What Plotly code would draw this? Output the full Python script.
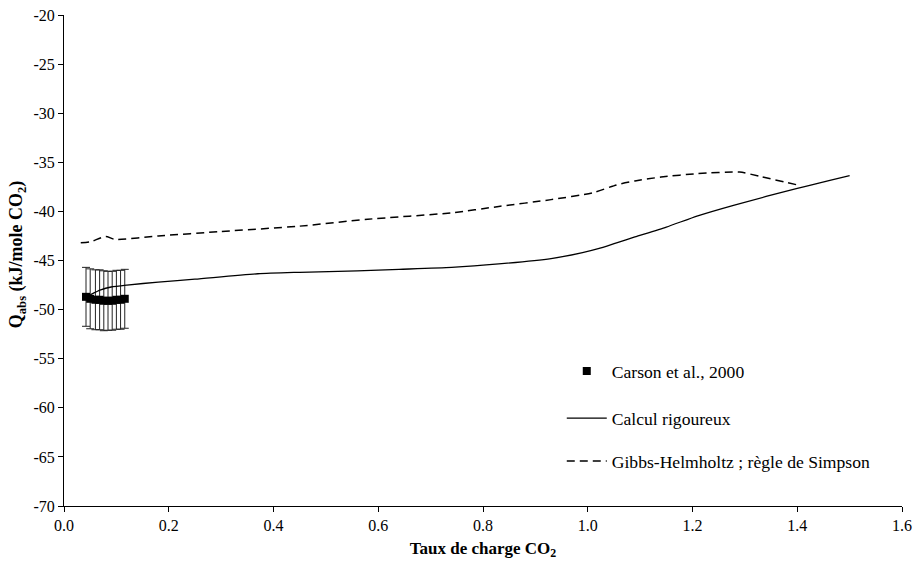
import plotly.graph_objects as go

# Carson et al., 2000 experimental points
carson_x = [0.042, 0.050, 0.060, 0.068, 0.076, 0.084, 0.092, 0.100, 0.108, 0.116]
carson_y = [-48.7, -48.9, -49.0, -49.0, -49.1, -49.1, -49.1, -49.0, -49.0, -48.9]
carson_err = [3.0, 3.05, 3.05, 3.05, 3.05, 3.0, 3.0, 3.0, 3.0, 3.0]

# Calcul rigoureux
rig_x = [0.05, 0.07, 0.09, 0.12, 0.18, 0.25, 0.37, 0.45, 0.56, 0.64, 0.74, 0.83,
         0.93, 0.99, 1.02, 1.055, 1.09, 1.15, 1.21, 1.28, 1.40, 1.50]
rig_y = [-48.5, -48.0, -47.7, -47.5, -47.2, -46.9, -46.35, -46.2, -46.05, -45.9, -45.7, -45.35,
         -44.8, -44.2, -43.8, -43.2, -42.6, -41.6, -40.45, -39.35, -37.65, -36.35]

# Gibbs-Helmholtz ; règle de Simpson
gh_x = [0.032, 0.05, 0.08, 0.097, 0.18, 0.30, 0.45, 0.58, 0.74, 0.83, 0.93, 1.01,
        1.055, 1.09, 1.14, 1.21, 1.29, 1.33, 1.40]
gh_y = [-43.2, -43.1, -42.55, -42.85, -42.5, -42.05, -41.5, -40.8, -40.15, -39.5, -38.8, -38.1,
        -37.3, -36.9, -36.5, -36.15, -36.0, -36.45, -37.3]

x_ticks = [0.0, 0.2, 0.4, 0.6, 0.8, 1.0, 1.2, 1.4, 1.6]
x_ticklabels = ["0.0", "0.2", "0.4", "0.6", "0.8", "1.0", "1.2", "1.4", "1.6"]
y_ticks = [-70, -65, -60, -55, -50, -45, -40, -35, -30, -25, -20]
y_ticklabels = ["-70", "-65", "-60", "-55", "-50", "-45", "-40", "-35", "-30", "-25", "-20"]

x_title = "<b>Taux de charge CO<sub>2</sub></b>"
y_title = "<b>Q<sub>abs</sub> (kJ/mole CO<sub>2</sub>)</b>"

FONT = "'Liberation Serif', 'Times New Roman', serif"

fig = go.Figure()
fig.add_trace(go.Scatter(
    x=carson_x, y=carson_y, mode="markers", name="Carson et al., 2000",
    marker=dict(symbol="square", size=8, color="black"),
    error_y=dict(type="data", array=carson_err, visible=True, color="#222", thickness=1, width=4),
    legend="legend",
))
fig.add_trace(go.Scatter(
    x=rig_x, y=rig_y, mode="lines", name="Calcul rigoureux",
    line=dict(color="black", width=1.3, shape="spline", smoothing=0.6),
    legend="legend2",
))
fig.add_trace(go.Scatter(
    x=gh_x, y=gh_y, mode="lines", name="Gibbs-Helmholtz ; règle de Simpson",
    line=dict(color="black", width=1.5, dash="8px,5px", shape="spline", smoothing=0.6),
    legend="legend3",
))

def legend_box(ypos):
    return dict(x=0.594, y=ypos, xanchor="left", yanchor="middle",
                bgcolor="rgba(0,0,0,0)", font=dict(family=FONT, size=17.6),
                itemwidth=40)

fig.update_layout(
    template="none",
    width=913, height=567,
    margin=dict(l=64, r=11, t=15, b=61, autoexpand=False),
    paper_bgcolor="white", plot_bgcolor="white",
    font=dict(family=FONT, size=16, color="black"),
    showlegend=True,
    legend=legend_box(0.275),
    legend2=legend_box(0.179),
    legend3=legend_box(0.0916),
    xaxis=dict(
        range=[0, 1.6], tickvals=x_ticks, ticktext=x_ticklabels,
        showline=True, linecolor="black", linewidth=1,
        ticks="outside", ticklen=5, tickcolor="black",
        tickfont=dict(family=FONT, size=16),
        showgrid=False, zeroline=False, automargin=False,
        title=dict(text=x_title, standoff=8, font=dict(family=FONT, size=17)),
    ),
    yaxis=dict(
        range=[-70, -20], tickvals=y_ticks, ticktext=y_ticklabels,
        showline=True, linecolor="black", linewidth=1,
        ticks="outside", ticklen=5, tickcolor="black",
        tickfont=dict(family=FONT, size=16),
        showgrid=False, zeroline=False, automargin=False,
    ),
    annotations=[dict(
        text=y_title, textangle=-90, xref="paper", yref="paper",
        x=-0.056, y=0.513, xanchor="center", yanchor="middle", showarrow=False,
        font=dict(family=FONT, size=18),
    )],
)

fig.write_html("out.html", config={"displayModeBar": False},
               post_script="document.body.style.margin='0';document.body.style.overflow='hidden';")
